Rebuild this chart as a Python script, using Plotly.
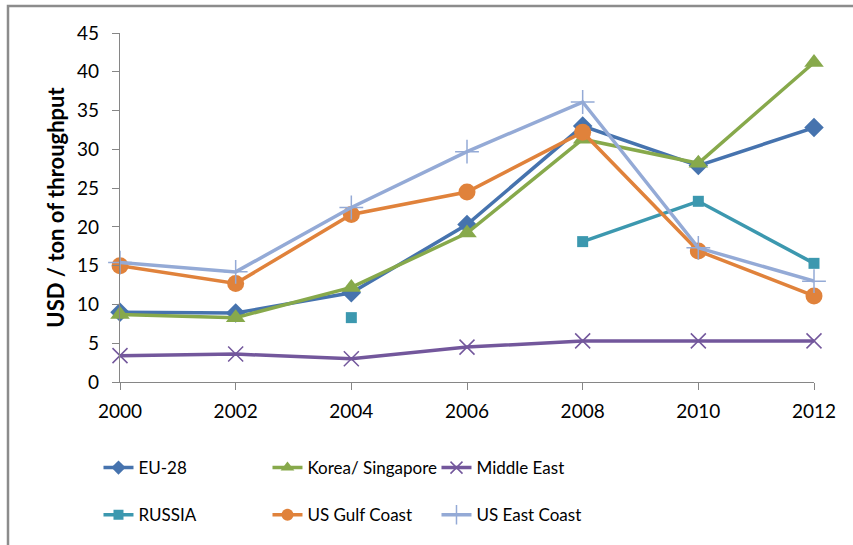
import plotly.graph_objects as go

years = [2000, 2002, 2004, 2006, 2008, 2010, 2012]
eu28 = [9.0, 8.9, 11.5, 20.3, 33.0, 27.9, 32.8]
korea = [8.7, 8.3, 12.2, 19.2, 31.3, 28.2, 41.2]
middle_east = [3.4, 3.6, 3.0, 4.5, 5.3, 5.3, 5.3]
russia = [None, None, 8.3, None, 18.1, 23.3, 15.3]
us_gulf = [15.0, 12.7, 21.6, 24.5, 32.2, 16.9, 11.1]
us_east = [15.4, 14.2, 22.5, 29.7, 36.1, 17.3, 13.0]

FONT = "Lato, Carlito, Calibri, sans-serif"

series = [
    ("EU-28", eu28, "#4673AE", "diamond", 15, 11, 0, "legend"),
    ("Korea/ Singapore", korea, "#87A94B", "triangle-up", 17, 12, 0, "legend"),
    ("Middle East", middle_east, "#73579C", "x-thin", 15, 12, 1.5, "legend"),
    ("RUSSIA", russia, "#3C98AF", "square", 11, 10, 0, "legend2"),
    ("US Gulf Coast", us_gulf, "#E0823B", "circle", 17, 12, 0, "legend2"),
    ("US East Coast", us_east, "#94AAD6", "cross-thin", 17, 14, 1.5, "legend2"),
]

fig = go.Figure()
for name, vals, color, sym, size, lsize, lw, lg in series:
    fig.add_trace(go.Scatter(
        x=years, y=vals, name=name, mode="lines+markers",
        line=dict(color=color, width=3.5),
        marker=dict(color=color, symbol=sym, size=size,
                    line=dict(width=lw, color=color)),
        connectgaps=False, cliponaxis=False, showlegend=False,
    ))
    # legend entry with a smaller marker (no data drawn)
    fig.add_trace(go.Scatter(
        x=[None], y=[None], name=name, mode="lines+markers",
        line=dict(color=color, width=3.5),
        marker=dict(color=color, symbol=sym, size=lsize,
                    line=dict(width=lw, color=color)),
        legend=lg, showlegend=True, hoverinfo="skip",
    ))

fig.update_layout(
    width=853, height=545,
    margin=dict(l=120, r=39, t=33, b=163),
    paper_bgcolor="white", plot_bgcolor="white",
    font=dict(family=FONT, size=19, color="#000000"),
    xaxis=dict(
        range=[2000, 2012], tickmode="array", tickvals=years,
        ticks="outside", ticklen=7, tickcolor="#868686",
        showline=True, linecolor="#868686", linewidth=1.3,
        showgrid=False, zeroline=False, ticklabelstandoff=5,
        tickfont=dict(family=FONT, size=19),
    ),
    yaxis=dict(
        range=[0, 45], tickmode="linear", tick0=0, dtick=5,
        ticks="outside", ticklen=7, tickcolor="#868686",
        showline=True, linecolor="#868686", linewidth=1.3,
        showgrid=False, zeroline=False, ticklabelstandoff=9,
        tickfont=dict(family=FONT, size=19),
        title=dict(text="<b>USD / ton of throughput</b>",
                   font=dict(family=FONT, size=22), standoff=6),
    ),
    legend=dict(orientation="h", x=-0.031, xanchor="left", y=-0.195, yanchor="top",
                entrywidth=124, entrywidthmode="pixels", itemwidth=30,
                font=dict(family=FONT, size=17), bgcolor="rgba(0,0,0,0)"),
    legend2=dict(orientation="h", x=-0.031, xanchor="left", y=-0.33, yanchor="top",
                 entrywidth=124, entrywidthmode="pixels", itemwidth=30,
                 font=dict(family=FONT, size=17), bgcolor="rgba(0,0,0,0)"),
    showlegend=True,
)

# outer chart frame (only top and left edges visible in the reference)
fig.add_shape(type="rect", xref="paper", yref="paper",
              x0=-(120 - 8) / 694, x1=(870 - 120) / 694,
              y0=-(560 - 382) / 349, y1=(382 - 6) / 349,
              line=dict(color="#8C8C8C", width=2.5), layer="below")

fig.write_html("out.html")
